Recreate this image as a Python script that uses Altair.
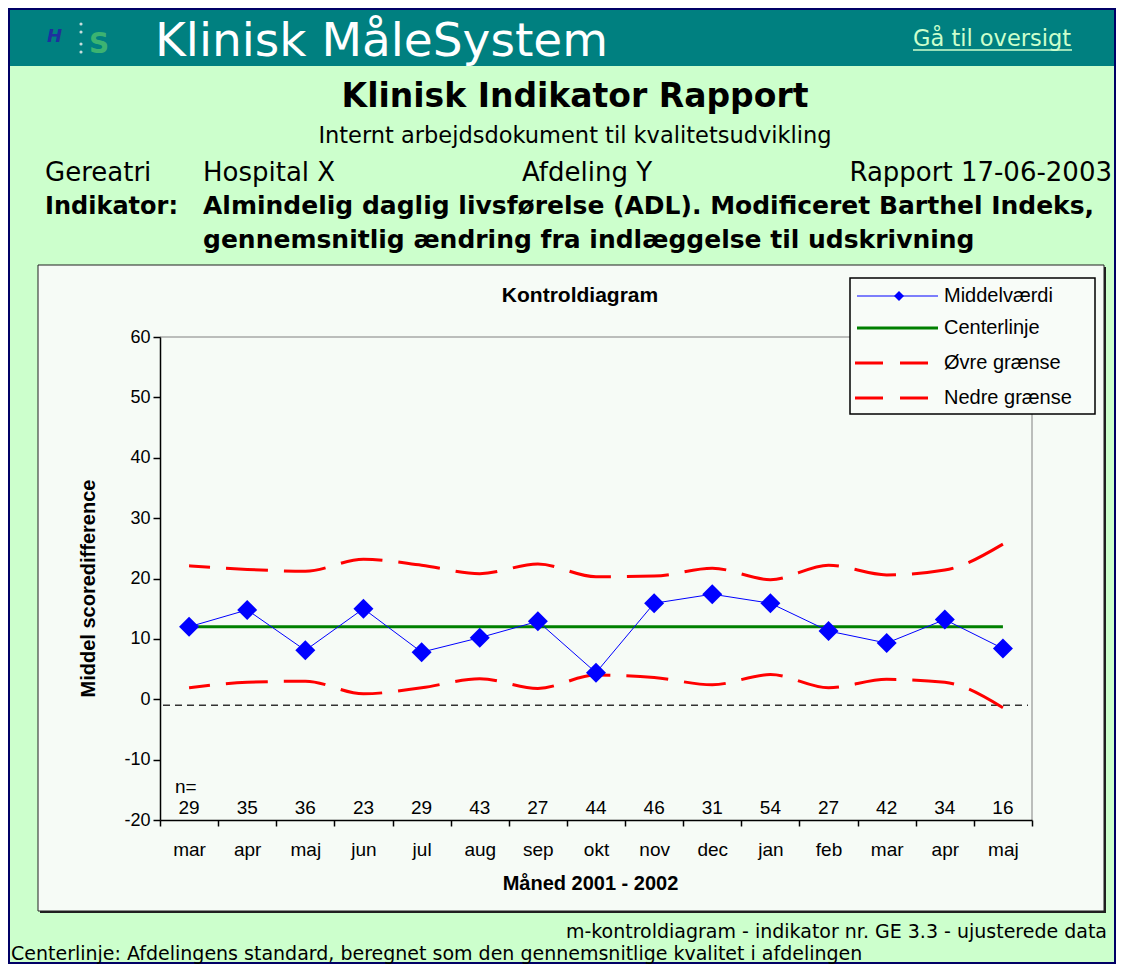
import altair as alt
import pandas as pd

# ---------------- data ----------------
months = ["mar", "apr", "maj", "jun", "jul", "aug", "sep", "okt",
          "nov", "dec", "jan", "feb", "mar", "apr", "maj"]
years = [2001] * 10 + [2002] * 5
mean_vals = [12.0, 14.8, 8.1, 15.0, 7.8, 10.2, 12.9, 4.4,
             15.9, 17.4, 15.9, 11.3, 9.3, 13.2, 8.4]
center_vals = [12.0] * 15
upper_vals = [22.1, 21.5, 21.2, 23.2, 22.2, 20.8, 22.4, 20.3,
              20.4, 21.7, 19.8, 22.2, 20.6, 21.4, 25.7]
lower_vals = [1.9, 2.8, 3.0, 0.9, 1.9, 3.4, 1.8, 4.0,
              3.6, 2.4, 4.1, 1.9, 3.3, 2.8, -1.4]
n_vals = [29, 35, 36, 23, 29, 43, 27, 44, 46, 31, 54, 27, 42, 34, 16]
y_ticks = [-20, -10, 0, 10, 20, 30, 40, 50, 60]
ref_level = -1

keys = [f"{m} {y}" for m, y in zip(months, years)]
df = pd.DataFrame({"key": keys, "mean": mean_vals, "center": center_vals,
                   "upper": upper_vals, "lower": lower_vals, "n": n_vals})

# ---------------- layout helpers ----------------
W, H = 872, 483          # plot area
OX, OY = 160, 337        # page position of plot origin
PAGE_R, PAGE_B = 1116, 962

def vx(X):
    return X - OX

def vy(Y):
    return Y - OY

one = pd.DataFrame({"d": [0]})

def rect(X1, Y1, X2, Y2, fill, stroke=None, sw=0):
    kw = dict(fill=fill)
    if stroke:
        kw.update(stroke=stroke, strokeWidth=sw)
    return alt.Chart(one).mark_rect(**kw).encode(
        x=alt.value(vx(X1)), x2=alt.value(vx(X2)),
        y=alt.value(vy(Y1)), y2=alt.value(vy(Y2)))

def text(s, X, Y, size, font="DejaVu Sans", weight="normal", align="left",
         baseline="alphabetic", color="black", style="normal"):
    return alt.Chart(one).mark_text(
        text=s, font=font, fontSize=size, fontWeight=weight, align=align,
        baseline=baseline, color=color, fontStyle=style).encode(
        x=alt.value(vx(X)), y=alt.value(vy(Y)))

def hrule(X1, X2, Y, color, sw, dash=None):
    kw = dict(color=color, strokeWidth=sw)
    if dash:
        kw["strokeDash"] = dash
    return alt.Chart(one).mark_rule(**kw).encode(
        x=alt.value(vx(X1)), x2=alt.value(vx(X2)), y=alt.value(vy(Y)))

def vrule(X, Y1, Y2, color, sw):
    return alt.Chart(one).mark_rule(color=color, strokeWidth=sw).encode(
        x=alt.value(vx(X)), y=alt.value(vy(Y1)), y2=alt.value(vy(Y2)))

def dot(X, Y, size, color):
    return alt.Chart(one).mark_point(shape="circle", filled=True, size=size,
                                     color=color, opacity=1).encode(
        x=alt.value(vx(X)), y=alt.value(vy(Y)))

# ---------------- page decoration ----------------
deco = [
    rect(8, 8, PAGE_R, PAGE_B, "#000066"),
    rect(10, 10, 1114, 66, "#008080"),
    rect(10, 66, 1114, PAGE_B, "#ccffcc"),
    # logo
    text("H", 47, 42, 18, weight="bold", style="italic", color="#1f2f9f"),
    dot(81, 24, 10, "#c8dcdc"), dot(81, 32, 10, "#c8dcdc"),
    dot(81, 44, 10, "#c8dcdc"), dot(81, 52, 10, "#c8dcdc"),
    text("S", 89, 53, 28, weight="bold", color="#3cb371"),
    text("Klinisk MåleSystem", 155, 56, 47, color="white"),
    text("Gå til oversigt", 913, 46, 22.5, color="#ccffcc"),
    hrule(913, 1072, 50, "#ccffcc", 1.5),
    text("Klinisk Indikator Rapport", 575, 107, 33, weight="bold", align="center"),
    text("Internt arbejdsdokument til kvalitetsudvikling", 575, 143, 22.5, align="center"),
    text("Gereatri", 45, 181, 26),
    text("Hospital X", 203, 181, 26),
    text("Afdeling Y", 522, 181, 26),
    text("Rapport 17-06-2003", 1112, 181, 26, align="right"),
    text("Indikator:", 45, 214, 24, weight="bold"),
    text("Almindelig daglig livsførelse (ADL). Modificeret Barthel Indeks,", 203, 214, 25, weight="bold"),
    text("gennemsnitlig ændring fra indlæggelse til udskrivning", 203, 248, 25, weight="bold"),
    # chart box with shadow
    rect(40, 267, 1106, 913, "#202020"),
    rect(38, 265, 1104, 911, "#f6fbf6", stroke="#202020", sw=1),
    text("Kontroldiagram", 580, 296, 21, font="Liberation Sans", weight="bold",
         align="center", baseline="middle"),
    # plot area border (top / right)
    hrule(OX, OX + W, OY, "#808080", 1),
    vrule(OX + W, OY, OY + H, "#808080", 1),
    # footers
    text("m-kontroldiagram - indikator nr. GE 3.3 - ujusterede data", 1107, 938, 19, align="right"),
    text("Centerlinje: Afdelingens standard, beregnet som den gennemsnitlige kvalitet i afdelingen",
         11, 960, 19),
]

# ---------------- data layers ----------------
YT = "Middel scoredifference"
xenc = alt.X(
    "key:O", sort=keys, title="Måned 2001 - 2002",
    scale=alt.Scale(type="band", domain=keys, paddingInner=0, paddingOuter=0),
    axis=alt.Axis(labelExpr="substring(datum.label, 0, 3)", labelAngle=0,
                  tickBand="extent", tickSize=6, tickColor="black", tickWidth=1.5,
                  domainColor="black", domainWidth=1.5,
                  labelFont="Liberation Sans", labelFontSize=19, labelColor="black",
                  labelPadding=23, labelBaseline="middle",
                  titleFont="Liberation Sans", titleFontSize=20, titleFontWeight="bold",
                  titleColor="black", titleX=430, titleY=63, titleBaseline="middle",
                  zindex=1))

yaxis = alt.Axis(values=y_ticks, labelExpr="'' + datum.value",
                 tickSize=7, tickColor="black", tickWidth=1.5,
                 domainColor="black", domainWidth=1.5, grid=False,
                 labelFont="Liberation Sans", labelFontSize=18, labelColor="black",
                 labelPadding=3,
                 titleFont="Liberation Sans", titleFontSize=20, titleFontWeight="bold",
                 titleColor="black", titleX=-72, titleY=251, titleAngle=270,
                 titleBaseline="middle", zindex=1)
yscale = alt.Scale(domain=[-20, 60], nice=False, zero=False)

def yenc(field):
    return alt.Y(f"{field}:Q", scale=yscale, axis=yaxis, title=YT)

base = alt.Chart(df)

ref_line = alt.Chart(one).mark_rule(color="#333333", strokeWidth=1.5, strokeDash=[7, 5]).encode(
    y=alt.Y(datum=ref_level, scale=yscale, axis=yaxis, title=YT),
    x=alt.value(3), x2=alt.value(W - 4))

upper_line = base.mark_line(color="#ff0000", strokeWidth=3, strokeDash=[42, 16],
                            strokeDashOffset=21, interpolate="monotone").encode(
    x=xenc, y=yenc("upper"))
lower_line = base.mark_line(color="#ff0000", strokeWidth=3, strokeDash=[42, 16],
                            strokeDashOffset=21, interpolate="monotone").encode(
    x=xenc, y=yenc("lower"))
center_line = base.mark_line(color="#008000", strokeWidth=3).encode(
    x=xenc, y=yenc("center"))
mean_line = base.mark_line(color="#0000ff", strokeWidth=1).encode(
    x=xenc, y=yenc("mean"))
mean_pts = base.mark_point(shape="diamond", size=400, filled=True, color="#0000ff",
                           opacity=1).encode(x=xenc, y=yenc("mean"))
n_text = base.mark_text(font="Liberation Sans", fontSize=19, baseline="middle",
                        color="black").encode(x=xenc, y=alt.value(vy(808)), text="n:Q")
n_label = text("n=", 175, 787, 19, font="Liberation Sans", baseline="middle")

# ---------------- legend (manual, Excel style) ----------------
LX1, LX2 = 857, 938
legend = [
    rect(850, 278, 1095, 414, "#f8fcf8", stroke="black", sw=1.5),
    hrule(LX1, LX2, 296, "#0000ff", 1),
    alt.Chart(one).mark_point(shape="diamond", size=100, filled=True, color="#0000ff",
                              opacity=1).encode(x=alt.value(vx(899)), y=alt.value(vy(296))),
    text("Middelværdi", 944, 296, 20, font="Liberation Sans", baseline="middle"),
    hrule(LX1, LX2, 328, "#008000", 3),
    text("Centerlinje", 944, 328, 20, font="Liberation Sans", baseline="middle"),
    hrule(855, 928, 363, "#ff0000", 3, dash=[28, 17]),
    text("Øvre grænse", 944, 363, 20, font="Liberation Sans", baseline="middle"),
    hrule(855, 928, 398, "#ff0000", 3, dash=[28, 17]),
    text("Nedre grænse", 944, 398, 20, font="Liberation Sans", baseline="middle"),
]

layers = deco + [ref_line, upper_line, lower_line, center_line, mean_line,
                 mean_pts, n_text, n_label] + legend

chart = alt.layer(*layers).properties(
    width=W, height=H, padding=0, background="#000066"
).configure_view(stroke=None)

chart.save("out.html", embed_options={"renderer": "svg", "actions": False})
